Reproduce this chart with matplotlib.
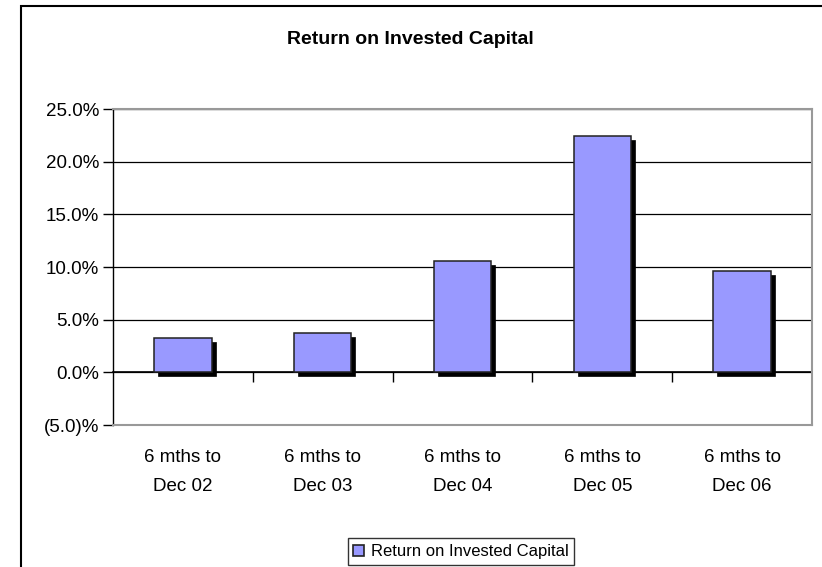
import matplotlib
matplotlib.use("Agg")
import matplotlib.pyplot as plt
import matplotlib.transforms as mtransforms
from matplotlib.patches import Rectangle, Patch
from matplotlib.ticker import FuncFormatter, MultipleLocator

plt.rcParams['font.family'] = ['Liberation Sans', 'DejaVu Sans']

categories = ["6 mths to\nDec 02", "6 mths to\nDec 03", "6 mths to\nDec 04",
              "6 mths to\nDec 05", "6 mths to\nDec 06"]
roic = [3.24, 3.74, 10.6, 22.45, 9.58]
series_name = "Return on Invested Capital"
title = "Return on Invested Capital"
ymin, ymax = -5, 25

W, H = 822, 567
fig = plt.figure(figsize=(W / 100, H / 100), dpi=100)

# chart border
fig.add_artist(Rectangle((20.5 / W, -0.1), 1.2, 1 - 6 / H + 0.1, transform=fig.transFigure,
                         fill=False, edgecolor='black', linewidth=1.5))

ax = fig.add_axes([113 / W, 1 - 425 / H, (812 - 113) / W, (425 - 109) / H])
ax.set_xlim(0, len(categories))
ax.set_ylim(ymin, ymax)

x = [i + 0.5 for i in range(len(categories))]

# shadow
shadow_tr = mtransforms.offset_copy(ax.transData, fig=fig, x=4, y=-4, units='dots')
ax.bar(x, roic, width=0.41, color='black', edgecolor='black', linewidth=0.5,
       transform=shadow_tr, zorder=3)
ax.bar(x, roic, width=0.41, color='#9999FF', edgecolor='#222222', linewidth=1.1,
       zorder=4, label=series_name)

# gridlines
ax.yaxis.set_major_locator(MultipleLocator(5))
ax.grid(axis='y', color='black', linewidth=0.9, zorder=1)
ax.set_axisbelow(True)

def fmt(v, pos):
    if v < 0:
        return "({:.1f})%".format(-v)
    return "{:.1f}%".format(v)
ax.yaxis.set_major_formatter(FuncFormatter(fmt))
ax.tick_params(axis='y', direction='out', length=7, width=1, labelsize=13.5, pad=3,
               colors='black')

for s in ['top', 'right', 'bottom']:
    ax.spines[s].set_color('#999999')
    ax.spines[s].set_linewidth(1.5)
ax.spines['left'].set_color('black')
ax.spines['left'].set_linewidth(1.0)

# category labels below plot area
ax.set_xticks(x)
ax.set_xticklabels(categories, fontsize=13.5, linespacing=1.95)
ax.tick_params(axis='x', length=0, pad=17)

# zero axis with boundary ticks
loc0 = (0 - ymin) / (ymax - ymin)
sec = ax.secondary_xaxis(loc0)
sec.set_xticks(range(1, len(categories)))
sec.set_xticklabels([])
sec.tick_params(axis='x', direction='out', length=7, width=1, colors='black')
sec.spines['bottom'].set_color('black')
sec.spines['bottom'].set_linewidth(1.2)

fig.text(410 / W, 1 - 39 / H, title, ha='center', va='center',
         fontsize=14, fontweight='bold')

leg = fig.legend(handles=[Patch(facecolor='#9999FF', edgecolor='#222222', linewidth=1.2,
                                label=series_name)],
                 loc='lower center', bbox_to_anchor=(461 / W, 2 / H), frameon=True,
                 fancybox=False, fontsize=12, handlelength=0.65, handleheight=0.65,
                 handletextpad=0.4, borderpad=0.35, borderaxespad=0)
leg.get_frame().set_edgecolor('black')
leg.get_frame().set_linewidth(1.0)

fig.savefig("out.png", dpi=100)
